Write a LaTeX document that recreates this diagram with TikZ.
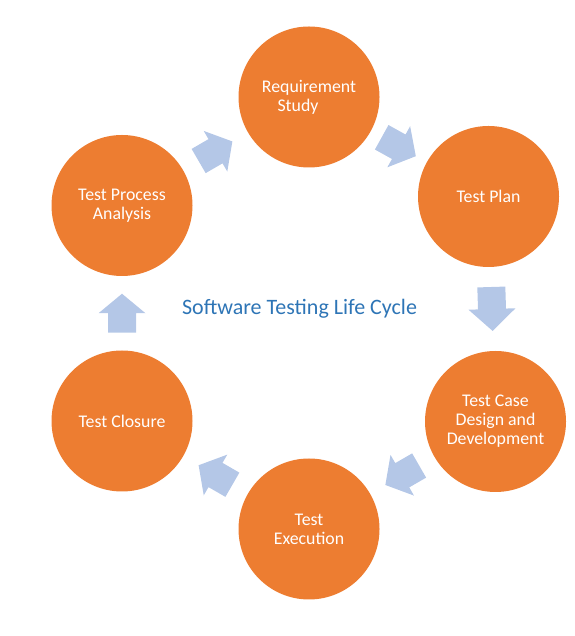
\documentclass[tikz,border=0pt]{standalone}
\usepackage{fontspec}
\setmainfont{Carlito}
\usetikzlibrary{calc}
\definecolor{orng}{HTML}{ED7D31}
\definecolor{ablue}{HTML}{B4C7E7}
\definecolor{tblue}{HTML}{2E75B6}
\tikzset{
  stage/.style={circle, fill=orng, minimum size=141pt, inner sep=0pt, text=white, align=center, font=\fontsize{17.8}{19}\selectfont},
  blockarrow/.pic={\fill[ablue] (-#1/2,-14) -- (0,-14) -- (0,-23.5) -- (#1/2,0) -- (0,23.5) -- (0,14) -- (-#1/2,14) -- cycle;}
}
\newcommand\cyclearrow[3]{\path let \p1=($(#3)-(#2)$), \n1={atan2(\y1,\x1)} in ($(#2)!0.5!(#3)$) pic[rotate=\n1]{blockarrow=#1};}
\begin{document}
\begin{tikzpicture}[x=1pt,y=1pt]
\useasboundingbox (0,0) rectangle (574,636);
\node[stage] (req) at (309,539) {Requirement\\Study\hspace*{22pt}};
\node[stage] (plan) at (488.5,439.5) {Test Plan};
\node[stage] (case) at (495.5,214.5) {Test Case\\Design and\\Development};
\node[stage] (exec) at (309,107) {Test\\Execution};
\node[stage] (clos) at (122,215) {Test Closure};
\node[stage] (proc) at (122,430.5) {Test Process\\Analysis};
\node[text=tblue, font=\fontsize{22}{26}\selectfont, anchor=base, inner sep=0pt] (title) at (299.5,321) {Software Testing Life Cycle};
\cyclearrow{39}{proc}{req}
\cyclearrow{39}{req}{plan}
\cyclearrow{44}{plan}{case}
\cyclearrow{39}{case}{exec}
\cyclearrow{39}{exec}{clos}
\cyclearrow{39}{clos}{proc}
\end{tikzpicture}
\end{document}
